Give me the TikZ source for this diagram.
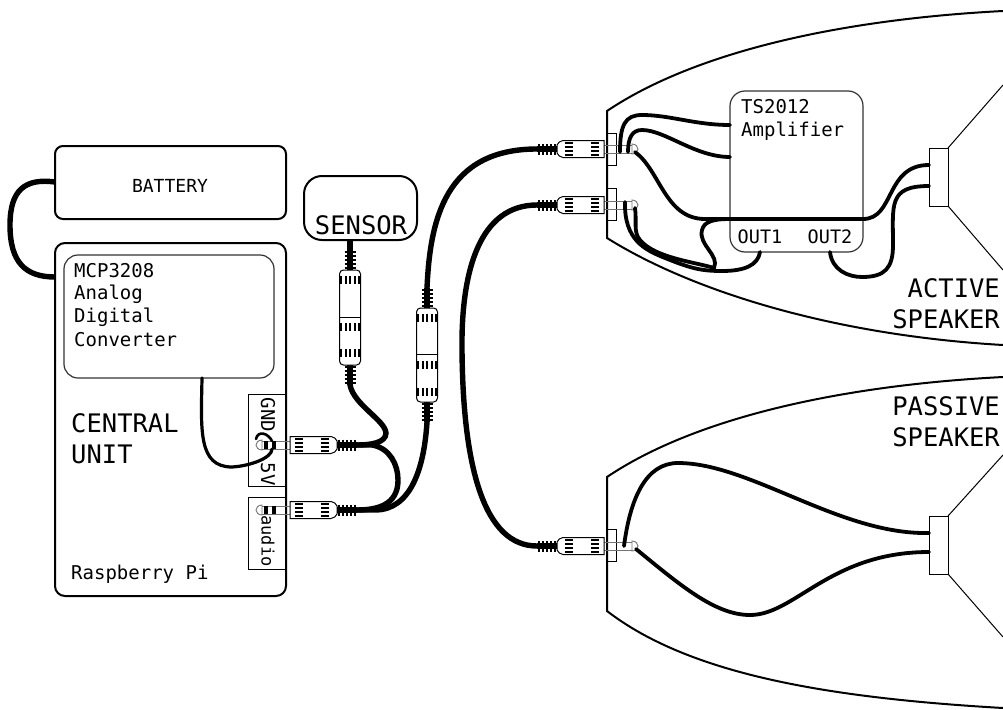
\documentclass[tikz,border=0pt]{standalone}
\usepackage{fontspec}
\setmainfont{DejaVu Sans Mono}
\newcommand{\fs}[1]{\fontsize{#1}{#1}\selectfont}
\tikzset{
  x=1pt,y=-1pt,
  boxline/.style={draw=black,line width=2pt},
  innerline/.style={draw=black!80,line width=1.2pt},
  thinline/.style={draw=black,line width=1pt},
  wall/.style={draw=black,line width=2pt},
  wire/.style={draw=black,line width=3.8pt,line cap=round},
  cable/.style={draw=black,line width=5.4pt},
  rib/.style={draw=black,line width=1.8pt},
  lab/.style={inner sep=0pt,font=\fs{19}},
  biglab/.style={inner sep=0pt,font=\fs{25.5}},
  greyline/.style={draw=black!55,line width=.9pt},
}
% horizontal jack: origin at the plug end of the body, +x towards the cable
\newcommand{\jackat}[3]{%
\begin{scope}[shift={(#1,#2)},rotate=#3]
  \draw[greyline] (-28,-4) -- (0,-4);
  \draw[greyline] (-28,4) -- (0,4);
  \draw[greyline] (-28,-5) .. controls (-32,-5) and (-34,-2) .. (-34,0) .. controls (-34,2) and (-32,5) .. (-28,5) -- cycle;
  \draw[thinline,fill=white] (0,-8.5) -- (41,-8.5) .. controls (44,-8.5) and (46,-6) .. (47,-4) -- (47,4) .. controls (46,6) and (44,8.5) .. (41,8.5) -- (0,8.5) -- cycle;
  \foreach \d in {-6.2,-2.1,2.1,6.2} {
    \fill (5,\d-1) rectangle (13,\d+1);
    \fill (31,\d-1) rectangle (39,\d+1);
  }
  \draw[cable] (47,0) -- (67,0);
  \foreach \r in {49,53,57,61,65} \draw[rib] (\r,-5.5) -- (\r,5.5);
\end{scope}}
% vertical double plug
\newcommand{\dbljack}[5]{% x, top, mid, bottom, stripe rows
\begin{scope}[shift={(#1,0)}]
  \draw[cable] (0,#2-20) -- (0,#2);
  \draw[cable] (0,#4) -- (0,#4+20);
  \foreach \r in {2,6,10,14,18} {
    \draw[rib] (-5.5,#2-\r) -- (5.5,#2-\r);
    \draw[rib] (-5.5,#4+\r) -- (5.5,#4+\r);
  }
  \draw[thinline,fill=white,rounded corners=4pt] (-10.5,#2) rectangle (10.5,#4);
  \draw[thinline] (-10.5,#3) -- (10.5,#3);
  \foreach \y in {#5} \foreach \d in {-9,-4.5,0,4.5,9} \fill (\d-1,\y-4) rectangle (\d+1,\y+4);
\end{scope}}
\begin{document}
\begin{tikzpicture}
\useasboundingbox (0,0) rectangle (1003,709);
% speaker enclosures
\draw[wall] (1003,11) .. controls (830,20) and (690,55) .. (607,111) -- (607,238) .. controls (690,290) and (830,335) .. (1003,345);
\draw[wall] (1003,377) .. controls (830,386) and (690,421) .. (607,477) -- (607,611) .. controls (690,675) and (830,698) .. (1003,708);
% boxes
\draw[boxline,rounded corners=8pt] (55,146) rectangle (286,219);
\node[lab,font=\fs{18}] (battery) at (170,186) {BATTERY};
\draw[boxline,rounded corners=10pt] (55,243) rectangle (286,596);
\coordinate (batA) at (55,182); \coordinate (batB) at (55,277);
\draw[innerline,rounded corners=14pt] (64,255) rectangle (274,378);
\coordinate (adc) at (202,378);
\draw[boxline,rounded corners=18pt] (304,176) rectangle (417,240);
\node[biglab] (sensor) at (361,225) {SENSOR};
\draw[thinline] (248,394) rectangle (286,486);
\draw[thinline] (248,497) rectangle (286,569);
\node[lab,rotate=-90] (gnd) at (268,415) {GND};
\node[lab,rotate=-90] (fivev) at (268,474) {5V};
\node[lab,rotate=-90,font=\fs{17}] (audio) at (268,541) {audio};
\node[lab,anchor=west] (mcpa) at (74,271) {MCP3208};
\node[lab,anchor=west] (mcpb) at (74,294) {Analog};
\node[lab,anchor=west] (mcpc) at (74,317) {Digital};
\node[lab,anchor=west] (mcpd) at (74,340) {Converter};
\node[biglab,anchor=west] (cua) at (71,423) {CENTRAL};
\node[biglab,anchor=west] (cub) at (71,454) {UNIT};
\node[lab,anchor=west] (rpi) at (71,574) {Raspberry Pi};
\node[biglab,anchor=east] (act) at (1000,288) {ACTIVE};
\node[biglab,anchor=east] (acs) at (1000,319) {SPEAKER};
\node[biglab,anchor=east] (pas) at (1000,406) {PASSIVE};
\node[biglab,anchor=east] (pss) at (1000,437) {SPEAKER};
% amplifier
\draw[innerline,rounded corners=15pt] (730,91) rectangle (863,252);
\node[lab,anchor=west] (tsa) at (741,107) {TS2012};
\node[lab,anchor=west] (tsb) at (741,131) {Amplifier};
\node[lab,font=\fs{18.5}] (out1) at (760,237) {OUT1};
\node[lab,font=\fs{18.5}] (out2) at (830,237) {OUT2};
\coordinate (outA) at (760,252); \coordinate (outB) at (830,252);
\coordinate (ampA) at (730,125); \coordinate (ampB) at (730,157); \coordinate (ampL) at (730,219); \coordinate (ampR) at (863,219);
% speaker drivers
\draw[thinline] (929,148) rectangle (948,206);
\draw[thinline] (948,148) -- (1003,85);
\draw[thinline] (948,206) -- (1003,270);
\draw[thinline] (929,516) rectangle (948,574);
\draw[thinline] (948,516) -- (1003,455);
\draw[thinline] (948,574) -- (1003,637);
\coordinate (drvA) at (929,165); \coordinate (drvB) at (929,186);
\coordinate (drvC) at (929,533); \coordinate (drvD) at (929,552);
% panel sockets
\draw[thinline] (607,133) rectangle (616,165);
\draw[thinline] (607,188) rectangle (616,220);
\draw[thinline] (607,529) rectangle (616,561);
% jacks
\jackat{290}{445}{0}
\jackat{290}{510}{0}
\fill (264,441) rectangle (268,449);
\fill (272,441) rectangle (276,449);
\fill (264,506) rectangle (268,514);
\fill (272,506) rectangle (276,514);
\jackat{604}{149}{180}
\jackat{604}{205}{180}
\jackat{604}{546}{180}
\dbljack{350}{270}{317}{365}{280,327,353}
\dbljack{427}{308}{354}{402}{318,365,392}
\coordinate (j1) at (357,445); \coordinate (j2) at (357,510);
\coordinate (j3) at (537,149); \coordinate (j4) at (537,205); \coordinate (j5) at (537,546);
\coordinate (v1a) at (350,250); \coordinate (v1b) at (350,385);
\coordinate (v2a) at (427,288); \coordinate (v2b) at (427,422);
\coordinate (senbot) at (350,240);
% cables
\draw[draw=black,line width=5.4pt] (batA) .. controls (25,178) and (10,190) .. (10,225) .. controls (10,262) and (25,277) .. (batB);
\draw[cable] (senbot) -- (v1a);
\draw[cable,line cap=round] (v1b) .. controls (354,405) and (385,420) .. (386,433) .. controls (386,443) and (370,445) .. (j1);
\draw[cable] (j1) -- (372,445) .. controls (390,448) and (398,465) .. (398,480) .. controls (398,500) and (385,510) .. (j2);
\draw[cable] (j2) -- (375,510) .. controls (410,510) and (424,470) .. (v2b);
\draw[cable] (v2a) .. controls (430,220) and (445,149) .. (j3);
\draw[cable] (j4) .. controls (480,205) and (461,270) .. (462,350) .. controls (463,470) and (485,546) .. (j5);
% wires
\draw[wire,line width=3.2pt] (adc) .. controls (201,430) and (198,467) .. (232,467) .. controls (250,466) and (272,458) .. (272,449);
\draw[wire,line width=2.6pt] (272,441) .. controls (268,433) and (258,430) .. (256,439);
\draw[wire] (620,152) .. controls (620,125) and (625,115) .. (642,115) .. controls (670,115) and (695,125) .. (ampA);
\draw[wire] (628,152) .. controls (628,138) and (632,130) .. (642,130) .. controls (665,130) and (695,157) .. (ampB);
\draw[wire] (635,152) .. controls (660,170) and (665,219) .. (705,219) -- (ampL) -- (ampR) .. controls (895,219) and (885,165) .. (drvA);
\draw[wire] (635,208) .. controls (637,222) and (633,232) .. (640,240) .. controls (655,258) and (695,262) .. (714,268) .. controls (720,255) and (698,245) .. (702,230) .. controls (704,222) and (712,219) .. (ampL);
\draw[wire] (625,202) .. controls (624,240) and (645,250) .. (665,258) .. controls (690,268) and (700,271) .. (722,271) .. controls (745,271) and (758,265) .. (outA);
\draw[wire] (outB) .. controls (832,270) and (848,277) .. (862,277) .. controls (885,277) and (893,268) .. (893,245) .. controls (893,205) and (888,186) .. (drvB);
\draw[wire] (624,546) .. controls (630,500) and (645,463) .. (678,463) .. controls (750,463) and (840,535) .. (drvC);
\draw[wire] (636,549) .. controls (680,585) and (715,615) .. (750,615) .. controls (795,615) and (830,552) .. (drvD);
\end{tikzpicture}
\end{document}
